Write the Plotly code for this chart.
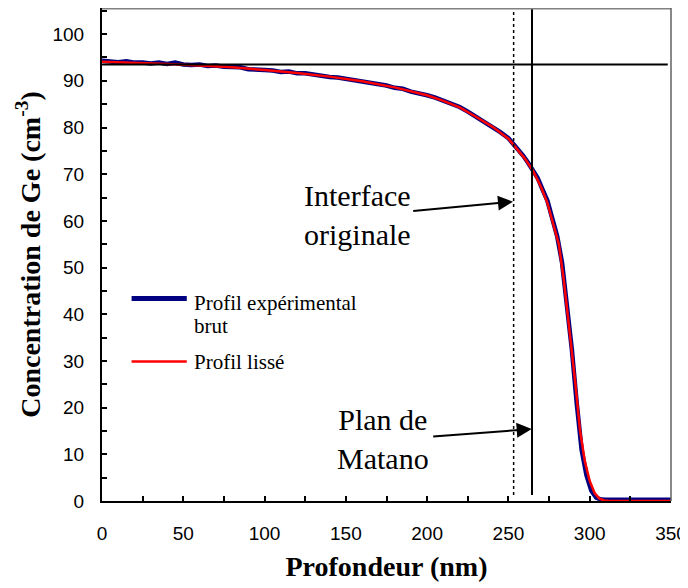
import plotly.graph_objects as go

# Profil brut (bleu)
x_brut = [0, 5, 10, 15, 20, 25, 30, 35, 40, 45, 50, 55, 60, 65, 70, 75, 80, 85, 90, 95,
          100, 105, 110, 115, 120, 125, 130, 135, 140, 145, 150, 155, 160, 165, 170, 175,
          180, 185, 190, 195, 200, 205, 210, 215, 220, 225, 230, 235, 240, 245, 250, 253,
          256, 259, 262, 265, 268, 271, 274, 277, 280, 283, 286, 289, 292, 295, 298, 301,
          304, 307, 310, 320, 330, 340, 350]
y_brut = [94.3, 94.2, 94.0, 94.2, 93.9, 93.9, 93.7, 93.9, 93.6, 93.9, 93.5, 93.4, 93.5, 93.2,
          93.3, 93.0, 92.9, 92.9, 92.5, 92.5, 92.3, 92.2, 91.9, 92.0, 91.6, 91.6, 91.3, 91.2,
          90.8, 90.7, 90.4, 90.3, 89.8, 89.7, 89.2, 89.0, 88.5, 88.3, 87.7, 87.4, 86.9, 86.4,
          85.7, 85.1, 84.4, 83.4, 82.3, 81.4, 80.2, 79.0, 77.7, 76.5, 75.3, 74.0, 72.5, 70.9,
          69.2, 66.7, 64.3, 60.5, 56.7, 51.0, 42.5, 32.5, 21.0, 11.0, 5.5, 2.2, 0.7, 0.3, 0.25,
          0.25, 0.25, 0.25, 0.25]

# Profil lissé (rouge)
x_lisse = [0, 20, 40, 60, 80, 100, 120, 140, 160, 180, 200, 210, 220, 230, 240, 250, 255, 260,
           265, 270, 274, 278, 281, 284, 286, 288, 291, 294, 297, 300, 303, 306, 309, 312, 350]
y_lisse = [94.1, 93.9, 93.6, 93.3, 92.9, 92.3, 91.7, 90.9, 89.9, 88.6, 86.9, 85.7, 84.3, 82.3,
           80.2, 77.6, 75.6, 73.4, 70.8, 67.3, 63.8, 58.8, 55.0, 47.5, 41.4, 35.8, 25.8, 15.2,
           8.5, 4.3, 1.7, 0.5, 0.1, 0.0, 0.0]

# lignes de repère
niveau_plateau = 93.5
x_interface = 253.2
x_matano = 264.5

nom_brut = ["Profil expérimental", "brut"]
nom_lisse = "Profil lissé"

serif = "Liberation Serif"
sans = "Liberation Sans"
y_max = 105.6

fig = go.Figure()
fig.add_trace(go.Scatter(x=x_brut, y=y_brut, mode="lines", name=" ".join(nom_brut),
                         line=dict(color="#000080", width=4.5)))
fig.add_trace(go.Scatter(x=x_lisse, y=y_lisse, mode="lines", name=nom_lisse,
                         line=dict(color="#FF0000", width=2.5)))

# repères
fig.add_shape(type="line", x0=0, x1=348, y0=niveau_plateau, y1=niveau_plateau,
              line=dict(color="black", width=2))
fig.add_shape(type="line", x0=x_interface, x1=x_interface, y0=1.3, y1=y_max,
              line=dict(color="black", width=1.5, dash="dot"))
fig.add_shape(type="line", x0=x_matano, x1=x_matano, y0=1.3, y1=y_max,
              line=dict(color="black", width=2))

# cadre haut / droite gris
fig.add_shape(type="line", xref="paper", yref="paper", x0=0, x1=1, y0=1, y1=1,
              line=dict(color="#808080", width=3))
fig.add_shape(type="line", xref="paper", yref="paper", x0=1, x1=1, y0=0, y1=1,
              line=dict(color="#606060", width=1.5))

# légende manuelle
fig.add_shape(type="line", xref="paper", yref="paper", x0=0.052, x1=0.149, y0=0.411, y1=0.411,
              line=dict(color="#000080", width=5))
fig.add_shape(type="line", xref="paper", yref="paper", x0=0.052, x1=0.149, y0=0.283, y1=0.283,
              line=dict(color="#FF0000", width=2.5))
leg_font = dict(family=serif, size=21, color="black")
fig.add_annotation(xref="paper", yref="paper", x=0.158, y=0.402, text=nom_brut[0],
                   showarrow=False, xanchor="left", yanchor="middle", font=leg_font)
fig.add_annotation(xref="paper", yref="paper", x=0.158, y=0.355, text=nom_brut[1],
                   showarrow=False, xanchor="left", yanchor="middle", font=leg_font)
fig.add_annotation(xref="paper", yref="paper", x=0.158, y=0.281, text=nom_lisse,
                   showarrow=False, xanchor="left", yanchor="middle", font=leg_font)

# flèches + textes
ann_font = dict(family=serif, size=30, color="black")
fig.add_annotation(x=157.4, y=61.3, text="Interface<br>originale", showarrow=False,
                   font=ann_font, xanchor="center", yanchor="middle")
fig.add_annotation(x=252.8, y=64.1, ax=190.5, ay=62.1, axref="x", ayref="y", text="",
                   showarrow=True, arrowhead=2, arrowsize=1.5, arrowwidth=2, arrowcolor="black")
fig.add_annotation(x=172.8, y=13.3, text="Plan de<br>Matano", showarrow=False,
                   font=ann_font, xanchor="center", yanchor="middle")
fig.add_annotation(x=264.3, y=15.4, ax=202.8, ay=13.8, axref="x", ayref="y", text="",
                   showarrow=True, arrowhead=2, arrowsize=1.5, arrowwidth=2, arrowcolor="black")

# la page ajoute 8 px de marge : figure un peu plus petite pour rester calée
fig.update_layout(
    width=680, height=580,
    margin=dict(l=94, r=17, t=0, b=87),
    plot_bgcolor="white", paper_bgcolor="white",
    showlegend=False,
    xaxis=dict(range=[0, 350], dtick=50, ticks="inside", ticklen=5, tickwidth=1.5,
               tickcolor="black", showline=True, linecolor="black", linewidth=2,
               showgrid=False, zeroline=False, ticklabelstandoff=14,
               tickfont=dict(family=sans, size=19, color="black"),
               minor=dict(dtick=25, ticks="inside", ticklen=5, tickwidth=1.5, tickcolor="black"),
               title=dict(text="<b>Profondeur (nm)</b>", standoff=14,
                          font=dict(family=serif, size=28, color="black"))),
    yaxis=dict(range=[0, y_max], dtick=10, ticks="inside", ticklen=5, tickwidth=1.5,
               tickcolor="black", showline=True, linecolor="black", linewidth=2,
               showgrid=False, zeroline=False, ticklabelstandoff=12,
               tickfont=dict(family=sans, size=19, color="black"),
               minor=dict(dtick=5, ticks="inside", ticklen=5, tickwidth=1.5, tickcolor="black"),
               title=dict(text="<b>Concentration de Ge (cm<sup>-3</sup>)</b>", standoff=4,
                          font=dict(family=serif, size=28, color="black"))),
)

fig.write_html("out.html")
